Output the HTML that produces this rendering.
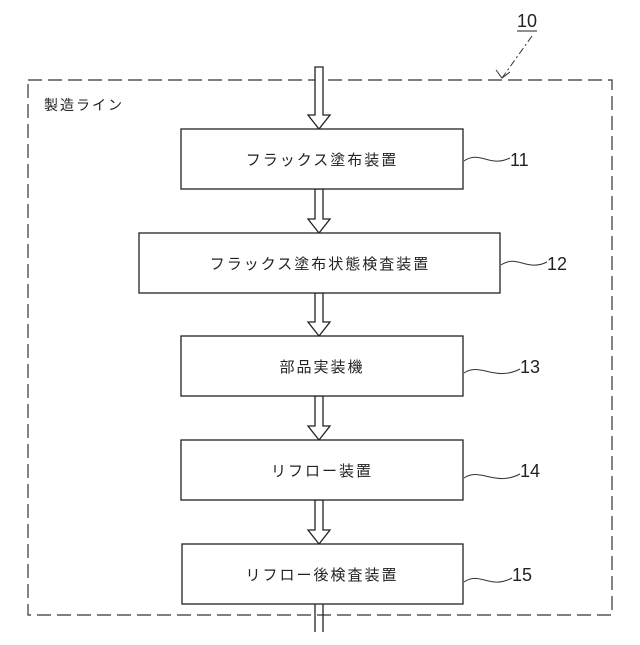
<!DOCTYPE html>
<html><head><meta charset="utf-8"><style>
body{margin:0;background:#fff}
svg text{font-family:"Liberation Sans","Noto Sans CJK JP",sans-serif;fill:#222}
</style></head><body>
<svg width="640" height="640" viewBox="0 0 640 640" xmlns="http://www.w3.org/2000/svg">
<rect x="28" y="80" width="584" height="535" fill="none" stroke="#333" stroke-width="1.2" stroke-dasharray="14,6"/>
<text x="44" y="110" font-size="14" letter-spacing="2">製造ライン</text>
<text x="517" y="27" font-size="18" font-weight="300">10</text>
<line x1="517" y1="31" x2="537" y2="31" stroke="#222" stroke-width="1"/>
<line x1="532" y1="36" x2="502" y2="78" stroke="#333" stroke-width="1" stroke-dasharray="7,3,2,3"/>
<path d="M496 70 L502 78 L510 72" fill="none" stroke="#333" stroke-width="1"/>
<g fill="#fff" stroke="#222" stroke-width="1.3">
<path d="M315 67 L323 67 L323 115 L330 115 L319 129 L308 115 L315 115 Z"/>
<path d="M315 189 L323 189 L323 219 L330 219 L319 233 L308 219 L315 219 Z"/>
<path d="M315 293 L323 293 L323 322 L330 322 L319 336 L308 322 L315 322 Z"/>
<path d="M315 396 L323 396 L323 426 L330 426 L319 440 L308 426 L315 426 Z"/>
<path d="M315 500 L323 500 L323 530 L330 530 L319 544 L308 530 L315 530 Z"/>
<path d="M315 604 L315 632 M323 604 L323 632"/>
<rect x="181" y="129" width="282" height="60"/>
<rect x="139" y="233" width="361" height="60"/>
<rect x="181" y="336" width="282" height="60"/>
<rect x="181" y="440" width="282" height="60"/>
<rect x="182" y="544" width="281" height="60"/>
</g>
<g font-size="15" letter-spacing="2" text-anchor="middle">
<text x="322" y="165">フラックス塗布装置</text>
<text x="320" y="269">フラックス塗布状態検査装置</text>
<text x="322" y="372">部品実装機</text>
<text x="322" y="476">リフロー装置</text>
<text x="322" y="580">リフロー後検査装置</text>
</g>
<g fill="none" stroke="#333" stroke-width="1">
<path d="M464 161 C480 150,490 168,510 158"/>
<path d="M501 265 C517 254,527 272,547 262"/>
<path d="M464 373 C480 362,495 382,520 369"/>
<path d="M464 478 C480 467,495 487,520 474"/>
<path d="M464 582 C480 571,490 590,512 578"/>
</g>
<g font-size="18" font-weight="300">
<text x="510" y="166">11</text>
<text x="547" y="270">12</text>
<text x="520" y="373">13</text>
<text x="520" y="477">14</text>
<text x="512" y="581">15</text>
</g>
</svg>
</body></html>
